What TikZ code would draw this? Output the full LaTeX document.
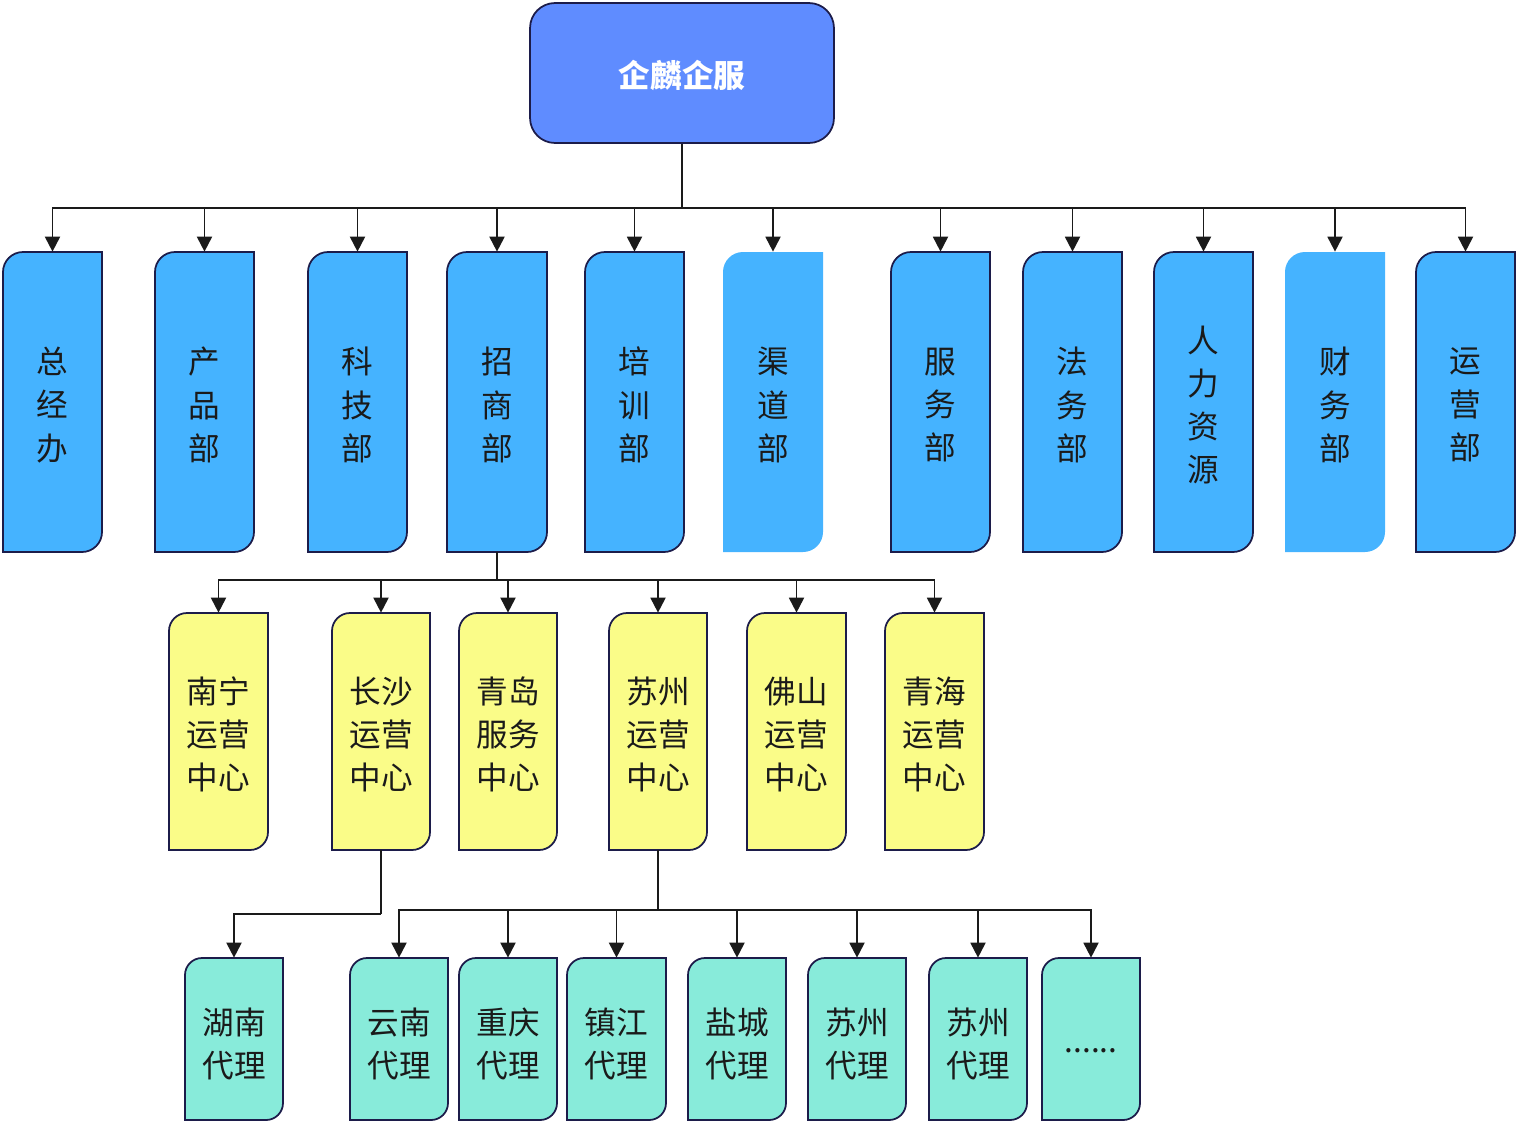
\documentclass[tikz,border=0pt]{standalone}
\usepackage{fontspec}
\newfontfamily\cjk{Noto Sans CJK SC}
\usetikzlibrary{arrows.meta}
\definecolor{topblue}{HTML}{5F8CFF}
\definecolor{deptblue}{HTML}{45B3FF}
\definecolor{ctryellow}{HTML}{FAFC88}
\definecolor{agteal}{HTML}{88EBDA}
\definecolor{navy}{HTML}{1C1C4A}
\definecolor{ink}{HTML}{1A1A1A}
\tikzset{
  bordered/.style={draw=navy,line width=1pt},
  deptfill/.style={fill=deptblue},
  ctrfill/.style={fill=ctryellow,draw=navy,line width=1pt},
  agfill/.style={fill=agteal,draw=navy,line width=1pt},
  label/.style={inner sep=0pt,text=ink,align=center,font=\cjk\fontsize{18}{24.6}\selectfont},
  arr/.style={draw=ink,line width=1.1pt,-{Triangle[length=0.3cm,width=0.3cm]}},
  conn/.style={draw=ink,line width=1.1pt},
}
\def\lblshift{3}
% #1 name, #2 style, #3 L, #4 T, #5 R, #6 B, #7 radius(px), #8 text
\newcommand{\orgbox}[8]{%
  \path[#2] (#3,#6) -- (#3,#4+#7) arc[start angle=180,end angle=90,radius=#7*0.02cm]
     -- (#5,#4) -- (#5,#6-#7) arc[start angle=0,end angle=-90,radius=#7*0.02cm] -- cycle;
  \node[label,minimum width={(#5-#3)*0.02cm},minimum height={(#6-#4)*0.02cm}] (#1) at ({(#3+#5)/2},{(#4+#6)/2}) {};
  \node[label] (#1-t) at ({(#3+#5)/2},{(#4+#6)/2+\lblshift}) {#8};
}
\begin{document}
\begin{tikzpicture}[x=0.02cm,y=-0.02cm]
\useasboundingbox (0,0) rectangle (1517,1123);
% top
\node[draw=navy,line width=1pt,fill=topblue,rounded corners=0.5cm,minimum width=6.08cm,minimum height=2.8cm,
  text=white,font=\cjk\bfseries\fontsize{18}{20}\selectfont] (top) at (682,73) {};
\node[text=white,font=\cjk\bfseries\fontsize{18}{20}\selectfont,inner sep=0pt] (topt) at (682,75) {企麟企服};
\coordinate (bus1) at (682,208);
% departments
\orgbox{d1}{deptfill,bordered}{3}{252}{102}{552}{20}{总\\经\\办}
\orgbox{d2}{deptfill,bordered}{155}{252}{254}{552}{20}{产\\品\\部}
\orgbox{d3}{deptfill,bordered}{308}{252}{407}{552}{20}{科\\技\\部}
\orgbox{d4}{deptfill,bordered}{447}{252}{547}{552}{20}{招\\商\\部}
\orgbox{d5}{deptfill,bordered}{585}{252}{684}{552}{20}{培\\训\\部}
\orgbox{d6}{deptfill}{723}{252}{823}{552}{20}{渠\\道\\部}
\orgbox{d7}{deptfill,bordered}{891}{252}{990}{552}{20}{服\\务\\部}
\orgbox{d8}{deptfill,bordered}{1023}{252}{1122}{552}{20}{法\\务\\部}
\orgbox{d9}{deptfill,bordered}{1154}{252}{1253}{552}{20}{人\\力\\资\\源}
\orgbox{d10}{deptfill}{1285}{252}{1385}{552}{20}{财\\务\\部}
\orgbox{d11}{deptfill,bordered}{1416}{252}{1515}{552}{20}{运\\营\\部}
% centers
\def\lblshift{3}
\orgbox{c1}{ctrfill}{169}{613}{268}{850}{18}{南宁\\运营\\中心}
\orgbox{c2}{ctrfill}{332}{613}{430}{850}{18}{长沙\\运营\\中心}
\orgbox{c3}{ctrfill}{459}{613}{557}{850}{18}{青岛\\服务\\中心}
\orgbox{c4}{ctrfill}{609}{613}{707}{850}{18}{苏州\\运营\\中心}
\orgbox{c5}{ctrfill}{747}{613}{846}{850}{18}{佛山\\运营\\中心}
\orgbox{c6}{ctrfill}{885}{613}{984}{850}{18}{青海\\运营\\中心}
% agents
\def\lblshift{5}
\orgbox{a1}{agfill}{185}{958}{283}{1120}{17}{湖南\\代理}
\orgbox{a2}{agfill}{350}{958}{448}{1120}{17}{云南\\代理}
\orgbox{a3}{agfill}{459}{958}{557}{1120}{17}{重庆\\代理}
\orgbox{a4}{agfill}{567}{958}{666}{1120}{17}{镇江\\代理}
\orgbox{a5}{agfill}{688}{958}{786}{1120}{17}{盐城\\代理}
\orgbox{a6}{agfill}{808}{958}{906}{1120}{17}{苏州\\代理}
\orgbox{a7}{agfill}{929}{958}{1027}{1120}{17}{苏州\\代理}
\def\lblshift{12}
\orgbox{a8}{agfill}{1042}{958}{1140}{1120}{17}{......}
% connectors level 1
\draw[conn] (top.south) -- (bus1);
\foreach \d in {d1,d2,d3,d4,d5,d6,d7,d8,d9,d10,d11}{
  \draw[arr] (bus1) -| (\d.north);
}
% level 2
\coordinate (bus2) at (497,580);
\draw[conn] (d4.south) -- (bus2);
\foreach \c in {c1,c2,c3,c4,c5,c6}{
  \draw[arr] (bus2) -| (\c.north);
}
% level 3
\coordinate (j1) at (381,914);
\draw[conn] (c2.south) -- (j1);
\draw[arr] (j1) -| (a1.north);
\coordinate (bus3) at (658,910);
\draw[conn] (c4.south) -- (bus3);
\foreach \a in {a2,a3,a4,a5,a6,a7,a8}{
  \draw[arr] (bus3) -| (\a.north);
}
\end{tikzpicture}
\end{document}
